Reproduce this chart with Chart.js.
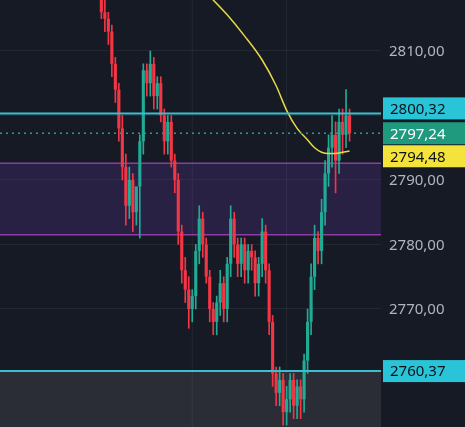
<!DOCTYPE html>
<html>
<head>
<meta charset="utf-8">
<script src="https://cdn.jsdelivr.net/npm/chart.js@4"></script>
<style>
  html, body { margin: 0; padding: 0; background: #161a25; }
  #wrap { width: 465px; height: 427px; }
</style>
</head>
<body>
<div id="wrap"><canvas id="c"></canvas></div>
<script>
// candles (oldest first)
const opens  = [2818, 2816, 2815, 2813, 2808, 2804, 2798, 2792, 2786, 2790, 2785, 2789, 2796, 2807, 2805, 2808, 2803, 2805, 2800, 2796, 2799, 2793, 2790, 2782, 2776, 2773, 2770, 2772, 2779, 2784, 2780, 2775, 2770, 2768, 2771, 2774, 2770, 2777, 2784, 2780, 2777, 2780, 2776, 2779, 2778, 2774, 2777, 2782, 2776, 2768, 2760, 2757, 2759, 2754, 2756, 2759, 2755, 2758, 2756, 2762, 2768, 2775, 2781, 2779, 2785, 2791, 2795, 2797, 2793, 2799, 2797, 2800];
const closes = [2816, 2815, 2813, 2808, 2804, 2798, 2792, 2786, 2790, 2785, 2789, 2796, 2807, 2805, 2808, 2803, 2805, 2800, 2796, 2799, 2793, 2790, 2782, 2776, 2773, 2770, 2772, 2779, 2784, 2780, 2775, 2770, 2768, 2771, 2774, 2770, 2777, 2784, 2780, 2777, 2780, 2776, 2779, 2778, 2774, 2777, 2782, 2776, 2768, 2760, 2757, 2759, 2754, 2756, 2759, 2755, 2758, 2756, 2762, 2768, 2775, 2781, 2779, 2785, 2791, 2795, 2797, 2793, 2799, 2797, 2800, 2797.24];
const highs  = [2819, 2818, 2816, 2814, 2809, 2805, 2800, 2794, 2792, 2791, 2787, 2797, 2808, 2808, 2810, 2809, 2806, 2806, 2801, 2800, 2800, 2794, 2791, 2783, 2778, 2775, 2773, 2780, 2786, 2785, 2781, 2776, 2771, 2772, 2776, 2775, 2778, 2786, 2785, 2781, 2781, 2781, 2780, 2780, 2779, 2778, 2784, 2783, 2777, 2769, 2761, 2761, 2760, 2758, 2760, 2760, 2759, 2759, 2763, 2770, 2777, 2783, 2782, 2787, 2793, 2797, 2800, 2799, 2801, 2801, 2804, 2801];
const lows   = [2815, 2813, 2811, 2806, 2802, 2796, 2790, 2783, 2784, 2782, 2783, 2781, 2794, 2803, 2803, 2801, 2801, 2799, 2794, 2794, 2792, 2788, 2780, 2774, 2771, 2767, 2768, 2770, 2777, 2778, 2774, 2768, 2766, 2766, 2769, 2768, 2768, 2775, 2778, 2775, 2775, 2774, 2774, 2776, 2772, 2772, 2775, 2774, 2766, 2758, 2755, 2755, 2752, 2752, 2754, 2753, 2753, 2753, 2754, 2760, 2766, 2773, 2777, 2777, 2783, 2789, 2792, 2788, 2791, 2794, 2795, 2796];
const firstSlot = 29;
const slotCount = 110;

// moving average (slot, value)
const maSlots  = [58, 61, 65, 70, 75, 79, 82, 85, 88, 90, 92, 94, 96, 98, 100];
const maValues = [2819.5, 2817.9, 2815.6, 2812.3, 2808.6, 2804.6, 2800.8, 2798.0, 2796.2, 2795.0, 2794.3, 2794.1, 2794.1, 2794.3, 2794.48];

// price levels
const resistance = 2800.32;
const support = 2760.37;
const lastPrice = 2797.24;
const maLast = 2794.48;
const zoneTop = 2792.6;
const zoneBottom = 2781.5;
const yMin = 2751.7, yMax = 2817.9;
const yTicks = [2770, 2780, 2790, 2810];
const gridSlots = [55, 82];

const labels = [];
for (let i = 0; i < slotCount; i++) labels.push(i);
const bodies = new Array(slotCount).fill(null);
const wicks = new Array(slotCount).fill(null);
const colors = new Array(slotCount).fill('#22ab94');
opens.forEach((o, i) => {
    const s = firstSlot + i;
    bodies[s] = [o, closes[i] === o ? o + 0.15 : closes[i]];
    wicks[s] = [lows[i], highs[i]];
    colors[s] = closes[i] >= o ? '#22ab94' : '#f23645';
});
const ma = maSlots.map((s, i) => ({ x: s, y: maValues[i] }));

const fmt = v => v.toFixed(2).replace('.', ',');

const levels = {
    id: 'levels',
    beforeDatasetsDraw(chart) {
        const { ctx, chartArea: a, scales: { x, y } } = chart;
        ctx.save();
        ctx.fillStyle = '#2a2c36';
        ctx.fillRect(a.left, y.getPixelForValue(support), a.right - a.left, a.bottom - y.getPixelForValue(support));
        const zt = y.getPixelForValue(zoneTop), zb = y.getPixelForValue(zoneBottom);
        ctx.fillStyle = 'rgba(103,58,183,0.22)';
        ctx.fillRect(a.left, zt, a.right - a.left, zb - zt);
        ctx.strokeStyle = '#8e3aa8';
        ctx.lineWidth = 1.5;
        [zt, zb].forEach(p => { ctx.beginPath(); ctx.moveTo(a.left, p); ctx.lineTo(a.right, p); ctx.stroke(); });
        ctx.strokeStyle = 'rgba(255,255,255,0.06)';
        ctx.lineWidth = 1;
        gridSlots.forEach(s => {
            const px = x.getPixelForValue(s);
            ctx.beginPath(); ctx.moveTo(px, a.top); ctx.lineTo(px, a.bottom); ctx.stroke();
        });
        ctx.restore();
    },
    afterDatasetsDraw(chart) {
        const { ctx, chartArea: a, scales: { y } } = chart;
        ctx.save();
        ctx.strokeStyle = '#3bbfcf';
        ctx.lineWidth = 2;
        [resistance, support].forEach(v => {
            const p = y.getPixelForValue(v);
            ctx.beginPath(); ctx.moveTo(a.left, p); ctx.lineTo(a.right, p); ctx.stroke();
        });
        ctx.strokeStyle = '#2a9d8a';
        ctx.lineWidth = 1.5;
        ctx.setLineDash([2, 4]);
        const lp = y.getPixelForValue(lastPrice);
        ctx.beginPath(); ctx.moveTo(a.left, lp); ctx.lineTo(a.right, lp); ctx.stroke();
        ctx.setLineDash([]);
        ctx.font = '15px "Noto Sans", sans-serif';
        ctx.textBaseline = 'middle';
        ctx.textAlign = 'left';
        // axis labels
        ctx.fillStyle = '#b2b5be';
        yTicks.forEach(v => ctx.fillText(fmt(v), a.right + 8, y.getPixelForValue(v) + 1));
        const tags = [
            [resistance, y.getPixelForValue(resistance) - 5, '#29c4d8', '#0d1117'],
            [lastPrice, y.getPixelForValue(lastPrice), '#1f9a7e', '#ffffff'],
            [maLast, y.getPixelForValue(lastPrice) + 23, '#f4e33a', '#0d1117'],
            [support, y.getPixelForValue(support), '#29c4d8', '#0d1117']
        ];
        tags.forEach(([v, cy, bg, fg]) => {
            ctx.fillStyle = bg;
            ctx.fillRect(a.right + 2, cy - 11, 84, 22);
            ctx.fillStyle = fg;
            ctx.fillText(fmt(v), a.right + 9, cy + 1);
        });
        ctx.restore();
    }
};

new Chart(document.getElementById('c'), {
    type: 'bar',
    data: {
        labels: labels,
        datasets: [
            { type: 'line', data: ma, borderColor: '#e6d84a', borderWidth: 1.5, pointRadius: 0, cubicInterpolationMode: 'monotone', order: 0 },
            { data: bodies, backgroundColor: colors, barPercentage: 1, categoryPercentage: 0.9, grouped: false, order: 1 },
            { data: wicks, backgroundColor: colors, barThickness: 1, grouped: false, order: 2 }
        ]
    },
    options: {
        responsive: true,
        maintainAspectRatio: false,
        animation: false,
        layout: { padding: 0 },
        plugins: { legend: { display: false }, tooltip: { enabled: false } },
        scales: {
            x: { display: false, offset: false },
            y: {
                position: 'right',
                min: yMin, max: yMax,
                border: { display: false },
                grid: { color: 'rgba(255,255,255,0.06)', drawTicks: false },
                afterBuildTicks: s => { s.ticks = [2770, 2780, 2790, 2800, 2810].map(v => ({ value: v })); },
                afterFit: s => { s.width = 84; },
                ticks: { display: false }
            }
        }
    },
    plugins: [levels]
});
</script>
</body>
</html>
